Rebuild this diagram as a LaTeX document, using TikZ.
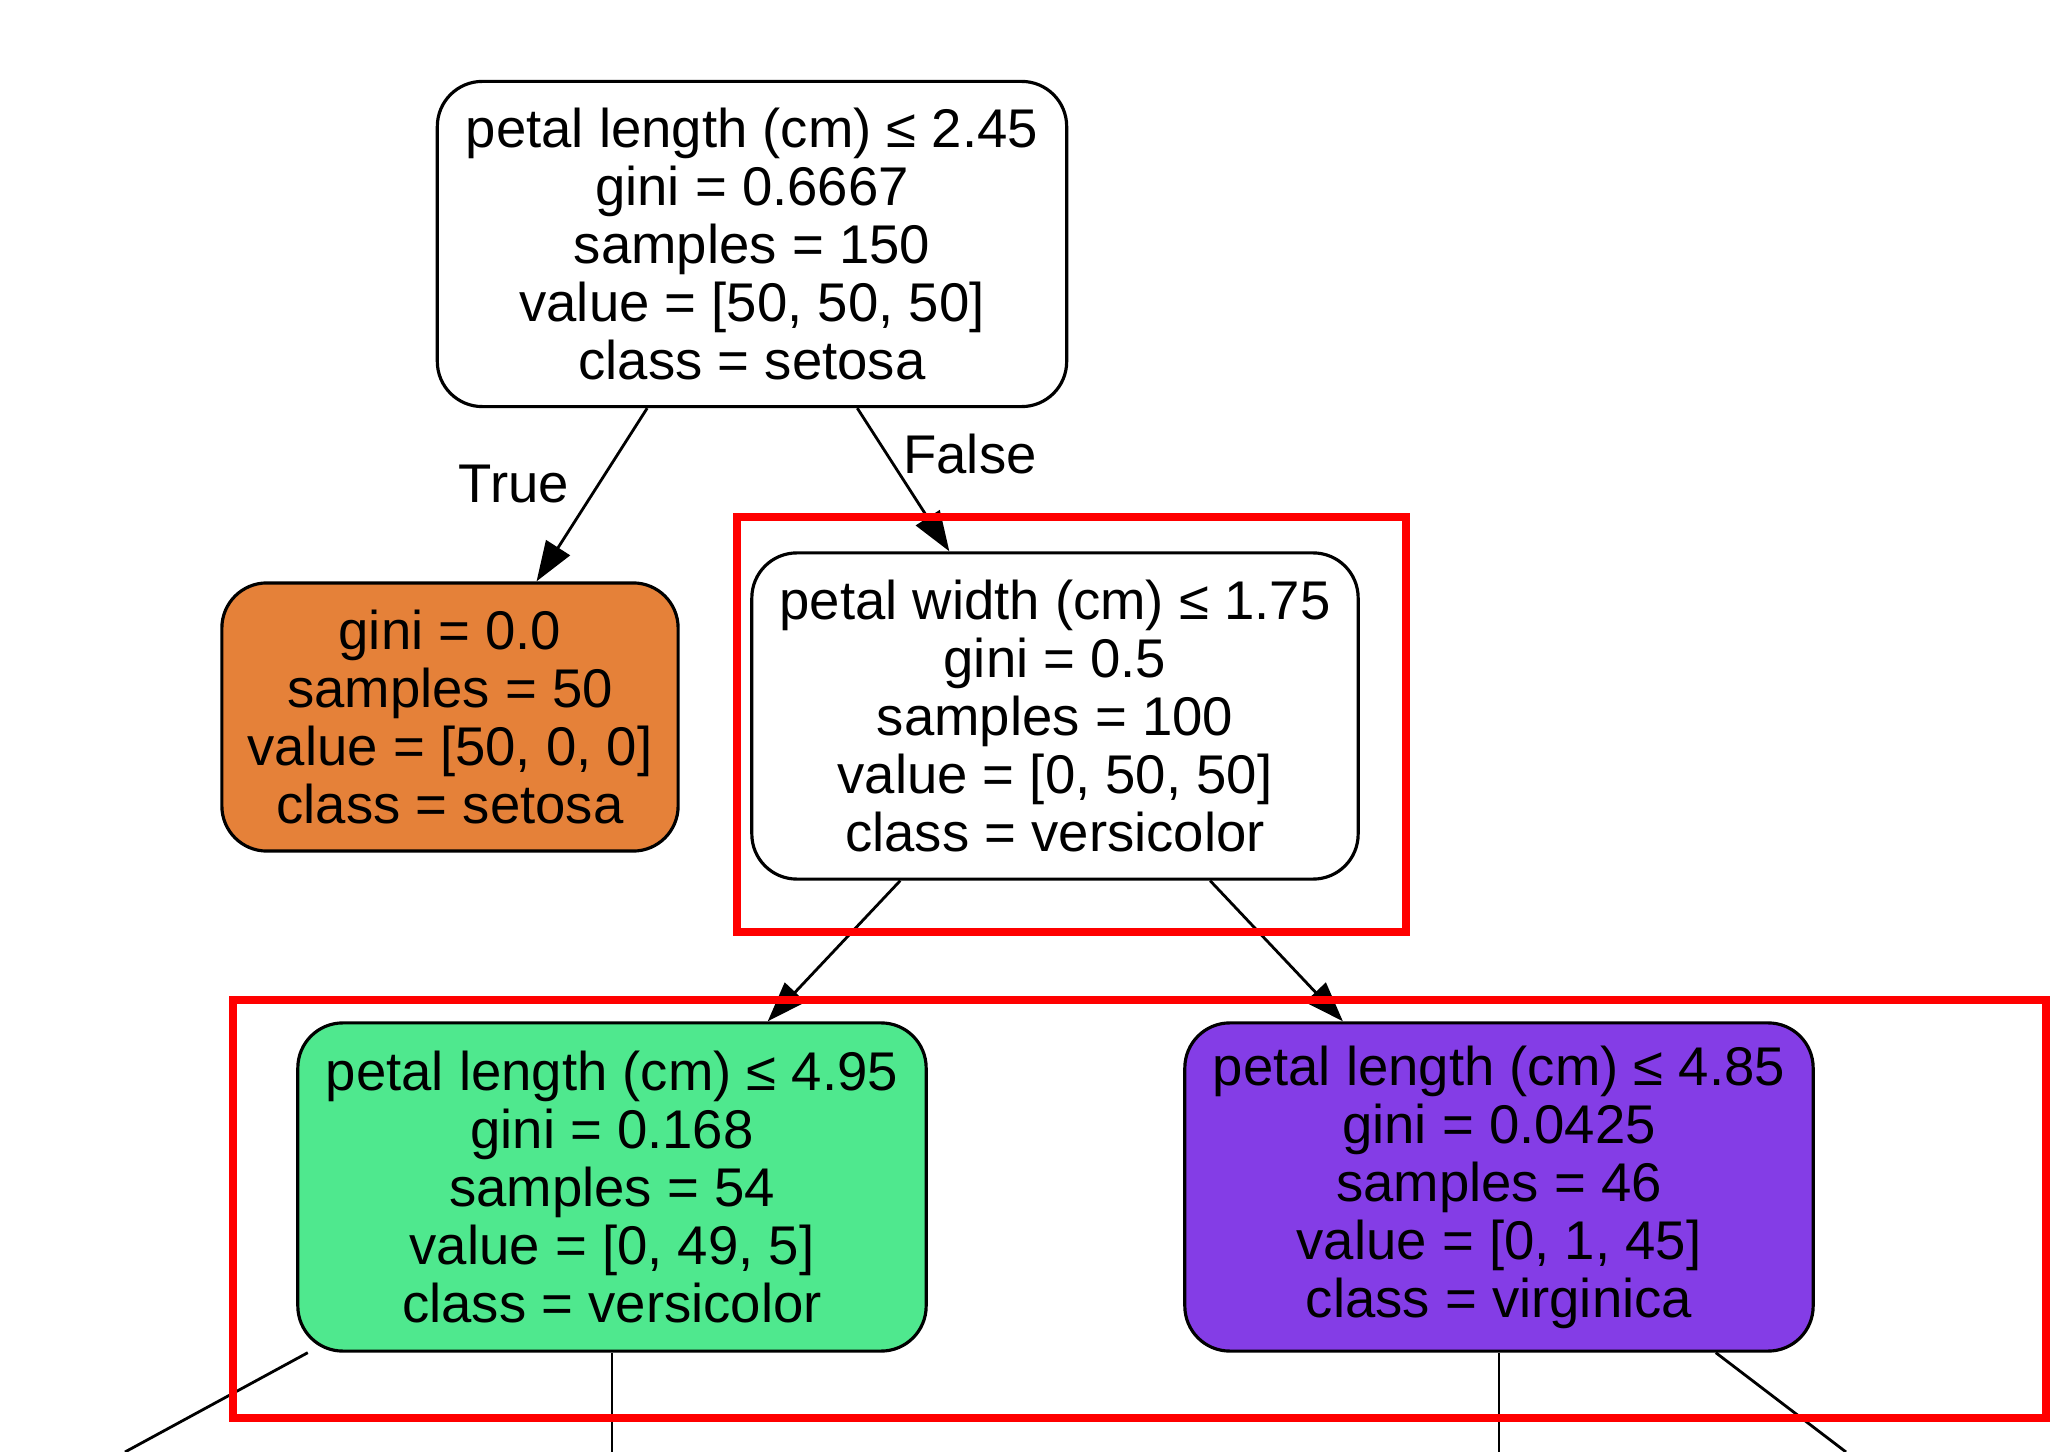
\documentclass[tikz,border=0pt]{standalone}
\usepackage{fontspec}
\setmainfont{Liberation Sans}
\usepackage{tikz}
\usetikzlibrary{arrows.meta}
\definecolor{setosacol}{HTML}{E58139}
\definecolor{versicol}{HTML}{4FE88E}
\definecolor{virgcol}{HTML}{843DE6}

\begin{document}
\begin{tikzpicture}[x=0.01cm,y=-0.01cm,
	treenode/.style={draw,line width=0.9pt,rounded corners=0.45cm,align=center,inner sep=0pt,font=\fontsize{15.5}{16.5}\selectfont},
	branch/.style={line width=0.8pt,-{Stealth[length=4mm,width=2.8mm,inset=0pt]}},
	stub/.style={line width=0.8pt},
	highlight/.style={draw=red,line width=2pt}]
	\useasboundingbox (0,0) rectangle (2053,1452);
	\node[treenode,minimum width=6.29cm,minimum height=3.25cm] (root) at (752,244) {petal length (cm) ≤ 2.45\\gini = 0.6667\\samples = 150\\value = [50, 50, 50]\\class = setosa};
	\node[treenode,fill=setosacol,minimum width=4.56cm,minimum height=2.68cm] (setosa) at (450,717) {gini = 0.0\\samples = 50\\value = [50, 0, 0]\\class = setosa};
	\node[treenode,minimum width=6.06cm,minimum height=3.26cm] (width) at (1055,716) {petal width (cm) ≤ 1.75\\gini = 0.5\\samples = 100\\value = [0, 50, 50]\\class = versicolor};
	\node[treenode,fill=versicol,minimum width=6.28cm,minimum height=3.28cm] (versi) at (612,1187) {petal length (cm) ≤ 4.95\\gini = 0.168\\samples = 54\\value = [0, 49, 5]\\class = versicolor};
	\node[treenode,fill=virgcol,minimum width=6.28cm,minimum height=3.28cm] (virg) at (1499,1187) {petal length (cm) ≤ 4.85\\gini = 0.0425\\samples = 46\\value = [0, 1, 45]\\class = virginica};
	\draw[branch] (root) -- (setosa);
	\draw[branch] (root) -- (width);
	\draw[branch] (width) -- (versi);
	\draw[branch] (width) -- (virg);
	\node[font=\fontsize{15.5}{16.5}\selectfont] (truelbl) at (514,484) {True};
	\node[font=\fontsize{15.5}{16.5}\selectfont] (falselbl) at (970,454) {False};
	\coordinate (versiA) at (125,1452);
	\coordinate (versiB) at (612,1452);
	\coordinate (virgA) at (1499,1452);
	\coordinate (virgB) at (1846,1452);
	\draw[stub] (versi) -- (versiA);
	\draw[stub] (versi) -- (versiB);
	\draw[stub] (virg) -- (virgA);
	\draw[stub] (virg) -- (virgB);
	\draw[highlight] (737,517) rectangle (1406,932);
	\draw[highlight] (233,1000) rectangle (2046,1418);
\end{tikzpicture}
\end{document}
